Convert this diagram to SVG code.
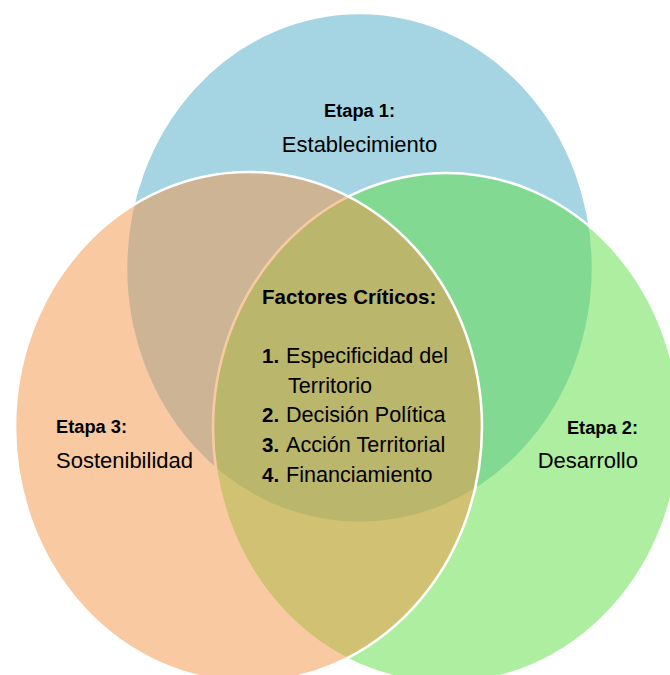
<svg xmlns="http://www.w3.org/2000/svg" width="670" height="675" viewBox="0 0 670 675">
  <style>
    .c { stroke: #ffffff; stroke-width: 2.6; fill-opacity: 0.5; }
    text { font-family: "Liberation Sans", Arial, sans-serif; fill: #000000; }
    .b { font-weight: bold; }
    .stage { font-size: 18.3px; font-weight: bold; }
    .lbl { font-size: 22px; }
    .hd { font-size: 20.5px; font-weight: bold; }
    .item { font-size: 21.6px; }
  </style>
  <rect width="670" height="675" fill="#ffffff"/>
  <g id="etapa1">
    <ellipse class="c" cx="359.5" cy="268" rx="233.5" ry="255" fill="#4BACC6"/>
    <text class="stage" x="359.5" y="117" text-anchor="middle">Etapa 1:</text>
    <text class="lbl" x="359.5" y="152" text-anchor="middle">Establecimiento</text>
  </g>
  <g id="etapa2">
    <ellipse class="c" cx="446.5" cy="428" rx="233.5" ry="255" fill="#5DDD41"/>
    <text class="stage" x="638" y="434" text-anchor="end">Etapa 2:</text>
    <text class="lbl" x="638" y="468" text-anchor="end">Desarrollo</text>
  </g>
  <g id="etapa3">
    <ellipse class="c" cx="248.5" cy="427" rx="233.5" ry="255" fill="#F39345"/>
    <text class="stage" x="56" y="433">Etapa 3:</text>
    <text class="lbl" x="56" y="468">Sostenibilidad</text>
  </g>
  <g id="factores">
    <text class="hd" x="262" y="304">Factores Críticos:</text>
    <text class="hd" x="262" y="363">1.</text>
    <text class="item" x="286" y="363">Especificidad del</text>
    <text class="item" x="288" y="393">Territorio</text>
    <text class="hd" x="262" y="422">2.</text>
    <text class="item" x="286" y="422">Decisión Política</text>
    <text class="hd" x="262" y="452">3.</text>
    <text class="item" x="286" y="452">Acción Territorial</text>
    <text class="hd" x="262" y="482">4.</text>
    <text class="item" x="286" y="482">Financiamiento</text>
  </g>
  <g id="connectors"/>
</svg>
